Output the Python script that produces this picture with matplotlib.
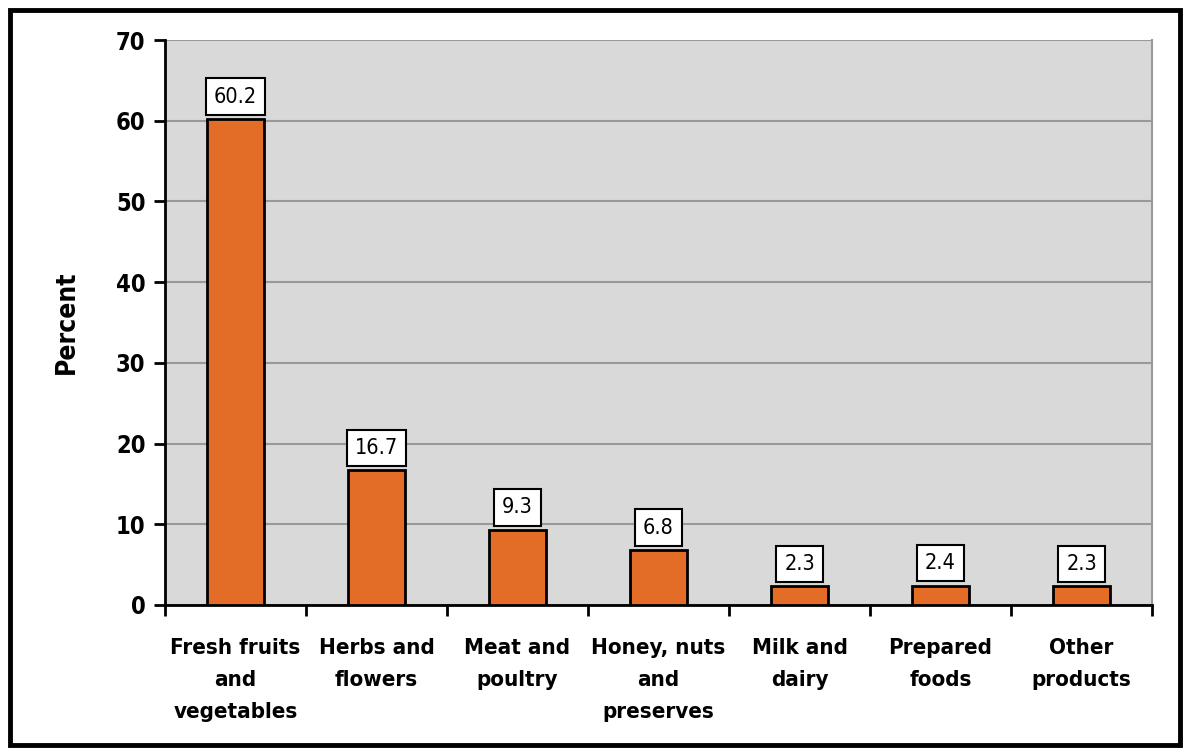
import numpy as np
import matplotlib
matplotlib.use("Agg")
import matplotlib.pyplot as plt
from matplotlib.patches import Rectangle

categories = ["Fresh fruits\nand\nvegetables", "Herbs and\nflowers", "Meat and\npoultry",
              "Honey, nuts\nand\npreserves", "Milk and\ndairy", "Prepared\nfoods", "Other\nproducts"]
values = [60.2, 16.7, 9.3, 6.8, 2.3, 2.4, 2.3]
yticks = [0, 10, 20, 30, 40, 50, 60, 70]

# condensed face stands in for the narrow font of the original
plt.rcParams['font.family'] = ['DejaVu Sans']
plt.rcParams['font.stretch'] = 'condensed'

fig = plt.figure(figsize=(11.9, 7.55), dpi=100)
ax = fig.add_axes([165/1190, 1-605/755, (1152-165)/1190, (605-40)/755])
ax.set_facecolor('#d9d9d9')

x = np.arange(len(values))
bars = ax.bar(x, values, width=0.4, color='#e36c26', edgecolor='black', linewidth=2, zorder=3)

for xi, v in zip(x, values):
    ax.annotate("%.1f" % v, (xi, v), xytext=(0, 9), textcoords='offset points',
                ha='center', va='bottom', fontsize=15.5,
                bbox=dict(boxstyle='square,pad=0.38', fc='white', ec='black', lw=1.5), zorder=4)

ax.set_xlim(-0.5, len(values) - 0.5)
ax.set_ylim(0, 70)
ax.set_yticks(yticks)
ax.set_yticklabels([str(t) for t in yticks], fontsize=17, fontweight='bold')
ax.yaxis.grid(True, color='#999999', linewidth=1.5, zorder=0)
ax.set_axisbelow(True)

ax.set_xticks(np.arange(len(values) + 1) - 0.5)
ax.set_xticklabels([])
ax.set_xticks(x, minor=True)
ax.set_xticklabels(categories, minor=True, fontsize=16, fontweight='bold', linespacing=1.75)
ax.tick_params(axis='x', which='minor', length=0, pad=24)
ax.tick_params(axis='x', which='major', length=8, width=2, direction='out')
ax.tick_params(axis='y', length=8, width=2, direction='out', pad=6)

ax.set_ylabel("Percent", fontsize=19, fontweight='bold', labelpad=26)

ax.spines['top'].set_visible(False)
ax.spines['right'].set_color('#999999')
ax.spines['right'].set_linewidth(1.5)
ax.spines['left'].set_linewidth(2)
ax.spines['bottom'].set_linewidth(2)

fig.patches.append(Rectangle((10/1190, 10/755), 1170/1190, 735/755, transform=fig.transFigure,
                             fill=False, ec='black', lw=3.5))

fig.savefig("out.png", dpi=100)
